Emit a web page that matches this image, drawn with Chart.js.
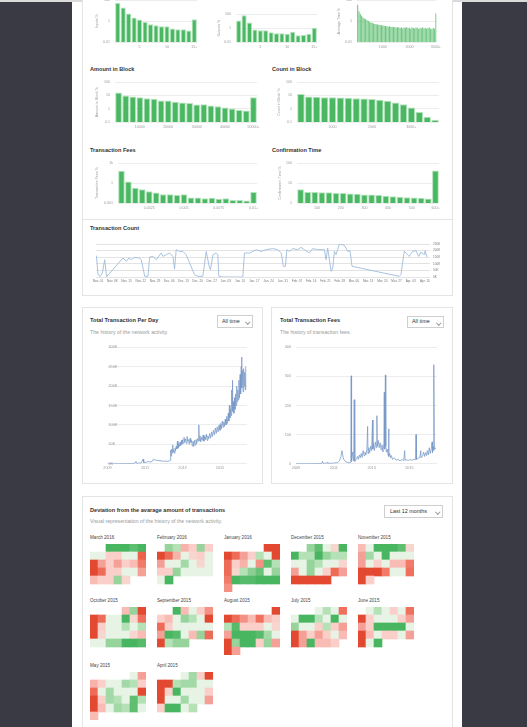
<!DOCTYPE html>
<html>
<head>
<meta charset="utf-8">
<script src="https://cdn.jsdelivr.net/npm/chart.js@4.4.1/dist/chart.umd.min.js"></script>
<style>
  body { margin: 0; width: 527px; height: 727px; overflow: hidden; background: #3a3a44; font-family: 'Liberation Sans', Arial, sans-serif; position: relative; }
  .abs { position: absolute; }
  .page { left: 72px; top: 0; width: 390px; height: 727px; background: #fff; }
  .strip { left: 0; top: 0; width: 527px; height: 2px; background: #dadada; }
  .card { background: #fff; border: 1px solid #e4e4e4; box-sizing: border-box; }
  .title { font-weight: bold; font-size: 5.6px; color: #333; line-height: 1; white-space: nowrap; }
  .sub { font-size: 5.2px; color: #9a9a9a; line-height: 1; white-space: nowrap; }
  .month { font-size: 4.6px; color: #444; line-height: 1; white-space: nowrap; }
  .select { border: 1px solid #cfcfcf; box-sizing: border-box; font-size: 5.4px; color: #333; line-height: 1; background: #fff; }
  .select span { position: absolute; top: 50%; transform: translateY(-50%); }
  .select i { position: absolute; right: 3px; top: 3.5px; width: 2.5px; height: 2.5px; border-right: 0.6px solid #999; border-bottom: 0.6px solid #999; transform: rotate(45deg); }
  canvas { position: absolute; }
</style>
</head>
<body>
<div class="abs page"></div>
<div class="abs strip"></div>

<div class="abs card" style="left:82px; top:-10px; width:371px; height:306px;"></div>
<div class="abs" style="left:82px; top:219px; width:371px; height:1px; background:#e4e4e4;"></div>
<div class="abs card" style="left:82px; top:307px; width:181px; height:177px;"></div>
<div class="abs card" style="left:271px; top:307px; width:182px; height:177px;"></div>
<div class="abs card" style="left:82px; top:496px; width:371px; height:260px;"></div>

<div class="abs title" style="left:90px; top:67px;">Amount in Block</div>
<div class="abs title" style="left:272px; top:67px;">Count in Block</div>
<div class="abs title" style="left:90px; top:148px;">Transaction Fees</div>
<div class="abs title" style="left:272px; top:148px;">Confirmation Time</div>
<div class="abs title" style="left:90px; top:226px;">Transaction Count</div>

<div class="abs title" style="left:90px; top:318px;">Total Transaction Per Day</div>
<div class="abs sub" style="left:90px; top:329.5px;">The history of the network activity.</div>
<div class="abs select" style="left:217px; top:315px; width:36px; height:13px;"><span style="left:4px;">All time</span><i></i></div>

<div class="abs title" style="left:280px; top:318px;">Total Transaction Fees</div>
<div class="abs sub" style="left:280px; top:329.5px;">The history of transaction fees.</div>
<div class="abs select" style="left:407px; top:316px; width:37px; height:12px;"><span style="left:4px;">All time</span><i></i></div>

<div class="abs title" style="left:90px; top:507.5px;">Deviation from the avarage amount of transactions</div>
<div class="abs sub" style="left:90px; top:519px;">Visual representation of the history of the network activity.</div>
<div class="abs select" style="left:384px; top:505px; width:59px; height:13px;"><span style="left:5px;">Last 12 months</span><i></i></div>

<canvas id="inputs" width="114" height="60" style="left:88px; top:-8px;"></canvas>
<canvas id="outputs" width="112" height="60" style="left:210px; top:-8px;"></canvas>
<canvas id="avgTime" width="114" height="60" style="left:330px; top:-8px;"></canvas>
<canvas id="amount" width="175" height="57" style="left:88px; top:75px;"></canvas>
<canvas id="count" width="175" height="57" style="left:270px; top:75px;"></canvas>
<canvas id="fees" width="175" height="57" style="left:88px; top:156px;"></canvas>
<canvas id="confirm" width="175" height="57" style="left:270px; top:156px;"></canvas>
<canvas id="txCount" width="362" height="47" style="left:90px; top:238px;"></canvas>
<canvas id="perDay" width="152" height="132" style="left:100px; top:340px;"></canvas>
<canvas id="feeHistory" width="172" height="132" style="left:270px; top:340px;"></canvas>
<div id="heat"></div>

<script>
Chart.defaults.font.family = "'Liberation Sans', Arial, sans-serif";

// ---- histograms ----
const inputsLabels = ['1', '2', '3', '4', '5', '6', '7', '8', '9', '10', '11', '12', '13', '14', '15+'];
const inputsValues = [55, 21, 5.5, 2.3, 1.45, 0.86, 0.51, 0.41, 0.33, 0.33, 0.2, 0.17, 0.17, 0.125, 1.56];
const outputsValues = [13, 71, 6.7, 0.64, 0.5, 0.5, 0.26, 0.19, 0.19, 0.15, 0.29, 0.095, 0.106, 0.15, 1.1];
const countShown = ['5', '10', '15+'];

const avgLabels = ['50', '100', '150', '200', '250', '300', '350', '400', '450', '500', '550', '600', '650', '700', '750',
  '800', '850', '900', '950', '1000', '1050', '1100', '1150', '1200', '1250', '1300', '1350', '1400', '1450', '1500',
  '1550', '1600', '1650', '1700', '1750', '1800', '1850', '1900', '1950', '2000', '2050', '2100', '2150', '2200', '2250',
  '2300', '2350', '2400', '2450', '2500', '2550', '2600', '2650', '2700', '2750', '2800', '2850', '2900', '2950', '3000+'];
const avgValues = [38, 9.3, 4.8, 3.3, 2.3, 1.8, 1.55, 1.25, 1.1, 0.86, 0.75, 0.7, 0.6, 0.55, 0.5, 0.48, 0.45, 0.42, 0.4, 0.38,
  0.36, 0.34, 0.33, 0.3, 0.32, 0.28, 0.3, 0.26, 0.28, 0.24, 0.27, 0.25, 0.22, 0.26, 0.2, 0.25, 0.23, 0.27, 0.21, 0.24,
  0.19, 0.26, 0.22, 0.2, 0.25, 0.23, 0.18, 0.24, 0.21, 0.26, 0.2, 0.23, 0.19, 0.22, 0.25, 0.2, 0.17, 0.22, 0.19, 5.5];
const avgShown = ['1000', '2000', '3000+'];

const amountLabels = ['2500', '5000', '7500', '10000', '12500', '15000', '17500', '20000', '22500', '25000',
  '27500', '30000', '32500', '35000', '37500', '40000', '42500', '45000', '47500', '50000+'];
const amountValues = [17, 9.7, 8.2, 7.4, 6.2, 5.6, 4.2, 4.2, 3.4, 3.0, 2.7, 2.05, 2.2, 1.74, 1.56, 1.25, 1.06, 0.8, 0.72, 7.4];
const amountShown = ['10000', '20000', '30000', '40000', '50000+'];

const blockCountLabels = ['200', '400', '600', '800', '1000', '1200', '1400', '1600', '1800', '2000',
  '2200', '2400', '2600', '2800', '3000+', '3200', '3400', '3600'];
const blockCountValues = [12.8, 8.2, 7.8, 7.4, 7.4, 7.0, 6.6, 6.2, 5.9, 5.3, 4.7, 4.0, 3.0, 2.2, 1.25, 0.57, 0.25, 0.15];
const blockCountShown = ['1000', '2000', '3000+'];

const feeLabels = ['0.0005', '0.001', '0.0015', '0.002', '0.0025', '0.003', '0.0035', '0.004', '0.0045', '0.005',
  '0.0055', '0.006', '0.0065', '0.007', '0.0075', '0.008', '0.0085', '0.009', '0.0095', '0.01+'];
const feeValues = [73, 1.76, 0.206, 0.117, 0.06, 0.038, 0.0216, 0.0216, 0.0154, 0.0216,
  0.007, 0.007, 0.005, 0.0062, 0.0044, 0.005, 0.0028, 0.0028, 0.0023, 0.047];
const feeShown = ['0.0025', '0.005', '0.0075', '0.01+'];

const confValues = [4.9, 3.6, 3.6, 3.5, 3.5, 3.2, 3.2, 3.0, 2.9, 2.7, 2.7, 2.5, 2.3, 2.2, 2.05, 1.97, 1.9, 1.83, 1.7, 43];
const confBins = [30, 60, 90, 120, 150, 180, 210, 240, 270, 300, 330, 360, 390, 420, 450, 480, 510, 540, 570, 600];
const confTicks = [100, 200, 300, 400, 500, 600];
const confTickLabels = ['100', '200', '300', '400', '500', '600+'];

// ---- transaction count (days from Nov. 01, values in K) ----
const txDays = [-0.8, 0, 1.1, 2.1, 3.3, 4.1, 4.4, 12.3, 13.9, 15.2, 16.4, 18, 20.5, 21.3, 23, 24.6, 25.4, 27, 28.7,
  31.1, 32, 33.6, 35.2, 36.9, 37.7, 38.5, 40.2, 41.8, 43.4, 47.5, 49.2, 51.6, 53.3, 54.9, 55.4, 56.6, 58.2, 59,
  59.5, 61.5, 71.3, 72.1, 74.6, 76.2, 77.9, 80.3, 82.8, 86.1, 88.5, 90.2, 91.3, 92.3, 93, 94.3, 95.9, 98.4, 100,
  101.6, 104.1, 105.7, 108.2, 111.5, 112.3, 113.1, 114.8, 115.6, 116.4, 117.2, 118, 118.9, 121.3, 123, 124.1,
  125.1, 148.4, 149.2, 150.8, 153.3, 154.9, 156.6, 157.9, 159, 160.7, 161.1, 162];
const txCounts = [162, 18, 5, 30, 131, 13, 5, 144, 119, 144, 131, 149, 144, 131, 5, 5, 151, 156, 131,
  182, 156, 169, 182, 156, 61, 207, 194, 194, 169, 18, 5, 5, 194, 68, 56, 169, 182, 169,
  5, 0, 0, 182, 182, 194, 207, 194, 207, 215, 207, 182, 81, 81, 207, 194, 215, 207, 225,
  207, 182, 215, 207, 207, 131, 220, 43, 68, 194, 169, 207, 250, 240, 194, 199,
  81, 5, 18, 194, 156, 194, 199, 156, 189, 169, 199, 151];
const txTicks = [0, 50, 100, 150, 200, 250];
const txTickDays = [0, 7, 14, 21, 28, 35, 42, 49, 56, 63, 70, 77, 84, 91, 98, 105, 112, 119, 126, 133, 140, 147, 154, 161];
const txTickLabels = ['Nov. 01', 'Nov. 08', 'Nov. 15', 'Nov. 22', 'Nov. 29', 'Dec. 06', 'Dec. 13', 'Dec. 20', 'Dec. 27',
  'Jan. 03', 'Jan. 10', 'Jan. 17', 'Jan. 24', 'Jan. 31', 'Feb. 07', 'Feb. 14', 'Feb. 21', 'Feb. 28', 'Mar. 06',
  'Mar. 13', 'Mar. 20', 'Mar. 27', 'Apr. 03', 'Apr. 10'];

// ---- total transactions per day (year, K) ----
const perDayYears = [2009.0, 2009.3, 2009.6, 2009.9, 2010.2, 2010.45, 2010.52, 2010.55, 2010.8, 2010.9, 2010.93, 2011.1,
  2011.2, 2011.3, 2011.42, 2011.45, 2011.5, 2011.6, 2011.75, 2011.9, 2012.0, 2012.1, 2012.2, 2012.3, 2012.34, 2012.37,
  2012.39, 2012.42, 2012.45, 2012.48, 2012.5, 2012.53, 2012.56, 2012.6, 2012.63, 2012.66, 2012.7, 2012.73, 2012.76,
  2012.8, 2012.83, 2012.87, 2012.9, 2012.94, 2012.97, 2013.0, 2013.04, 2013.08, 2013.12, 2013.16, 2013.2, 2013.24,
  2013.28, 2013.32, 2013.36, 2013.4, 2013.44, 2013.48, 2013.52, 2013.56, 2013.6, 2013.64, 2013.68, 2013.72, 2013.76,
  2013.8, 2013.84, 2013.87, 2013.89, 2013.93, 2013.97, 2014.01, 2014.05, 2014.1, 2014.14, 2014.18, 2014.22, 2014.27,
  2014.31, 2014.35, 2014.4, 2014.45, 2014.5, 2014.55, 2014.6, 2014.65, 2014.7, 2014.75, 2014.8, 2014.85, 2014.9,
  2014.95, 2015.0, 2015.04, 2015.08, 2015.12, 2015.16, 2015.2, 2015.24, 2015.28, 2015.32, 2015.36, 2015.4, 2015.44,
  2015.47, 2015.5, 2015.53, 2015.56, 2015.59, 2015.62, 2015.64, 2015.66, 2015.68, 2015.71, 2015.74, 2015.77, 2015.8,
  2015.83, 2015.86, 2015.89, 2015.92, 2015.95, 2015.98, 2016.01, 2016.04, 2016.07, 2016.1, 2016.13, 2016.15, 2016.17,
  2016.2, 2016.23, 2016.26, 2016.29, 2016.32, 2016.35, 2016.37];
const perDayValues = [0, 0.1, 0.2, 0.3, 0.4, 0.8, 6, 1, 2, 12, 3, 4,
  6, 4, 8, 12, 10, 9, 8, 7, 6, 7, 6, 7, 9, 35,
  20, 38, 28, 48, 30, 36, 27, 40, 33, 45, 38, 58, 40,
  52, 44, 55, 47, 60, 50, 62, 53, 68, 55, 64, 52, 70,
  58, 62, 50, 65, 55, 60, 46, 58, 44, 60, 48, 62, 52,
  65, 58, 100, 60, 72, 56, 68, 60, 74, 58, 70, 62, 76,
  60, 72, 64, 78, 66, 82, 70, 86, 74, 92, 78, 95, 82,
  100, 86, 104, 90, 110, 94, 108, 96, 115, 100, 122, 104, 130,
  110, 150, 118, 140, 124, 190, 140, 215, 135, 160, 130, 170, 140,
  180, 150, 200, 160, 190, 165, 215, 170, 230, 180, 250, 275, 195,
  240, 185, 245, 200, 235, 190, 250];
const perDayTicks = [0, 50, 100, 150, 200, 250, 300];
const yearTicks = [2009, 2011, 2013, 2015];

// ---- total transaction fees (year, value) ----
const feeYears = [2009.0, 2009.5, 2010.0, 2010.35, 2010.4, 2010.43, 2010.65, 2010.68, 2010.7, 2011.0, 2011.2, 2011.3,
  2011.38, 2011.43, 2011.47, 2011.5, 2011.55, 2011.65, 2011.75, 2011.85, 2011.9, 2011.92, 2011.94, 2012.0, 2012.05,
  2012.08, 2012.1, 2012.12, 2012.15, 2012.2, 2012.25, 2012.3, 2012.35, 2012.4, 2012.45, 2012.5, 2012.55, 2012.6,
  2012.65, 2012.7, 2012.75, 2012.79, 2012.81, 2012.85, 2012.9, 2012.95, 2013.0, 2013.05, 2013.07, 2013.1, 2013.15,
  2013.2, 2013.25, 2013.28, 2013.3, 2013.35, 2013.4, 2013.45, 2013.5, 2013.55, 2013.6, 2013.65, 2013.67, 2013.69,
  2013.73, 2013.75, 2013.79, 2013.83, 2013.87, 2013.9, 2013.92, 2013.96, 2014.0, 2014.05, 2014.1, 2014.2, 2014.3,
  2014.4, 2014.5, 2014.6, 2014.7, 2014.75, 2014.77, 2014.85, 2014.95, 2015.05, 2015.15, 2015.25, 2015.33, 2015.35,
  2015.37, 2015.45, 2015.55, 2015.6, 2015.62, 2015.7, 2015.75, 2015.8, 2015.85, 2015.9, 2015.95, 2016.0, 2016.05,
  2016.1, 2016.15, 2016.2, 2016.22, 2016.26, 2016.28, 2016.3, 2016.32, 2016.35];
const feeHistoryValues = [0, 0, 0.5, 1, 8, 1, 2, 5, 1, 2, 4, 10,
  25, 45, 30, 20, 12, 6, 4, 3, 5, 302, 8, 40, 10,
  220, 20, 8, 12, 15, 25, 15, 30, 20, 35, 22, 45, 28,
  40, 30, 50, 128, 35, 55, 38, 60, 45, 150, 50, 70, 45,
  75, 55, 165, 60, 80, 55, 72, 48, 65, 40, 70, 245, 50,
  305, 60, 40, 50, 30, 120, 25, 35, 20, 28, 15, 20, 12,
  15, 10, 14, 11, 45, 12, 13, 12, 14, 12, 15, 14, 100,
  15, 18, 22, 45, 20, 28, 40, 25, 38, 28, 45, 30, 55,
  35, 50, 75, 38, 60, 45, 340, 55, 50];
const feeHistoryTicks = [0, 100, 200, 300, 400];

// ---- deviation heatmaps (one value per day, weekday offset of the 1st, Sunday first) ----
const heatMonths = ['March 2016', 'February 2016', 'January 2016', 'December 2015', 'November 2015',
  'October 2015', 'September 2015', 'August 2015', 'July 2015', 'June 2015', 'May 2015', 'April 2015'];
const heatOffsets = [2, 1, 5, 2, 0, 4, 2, 6, 3, 1, 5, 3];
const heatValues = [
  [3, 3, 3, 2.5, 3, 0, 0, -1, -1, 0, 0, -2.5, -3, -1.5, -1, -1.5, -1, -1.2, -2, -3, -2.3, -1, -1, 0, 0, -1.5, -1.2, -1, -1, 1.5, -0.8],
  [1.5, 1, -1.3, -1, 1.5, -1, -3, -2.3, -1.3, 0, -0.8, -1, 0, -1.5, 0, 0, 1.3, 0, -0.8, 0, -1, -1, 1.5, 0, 0, 0, 0, 0, 3],
  [-3, -3, -3, -2.3, -1.5, -1, 1, 0, -3, -2.3, -1, -1.3, 0, -1.7, 2.5, 1, -2.3, -0.8, 1, 1.7, 2.3, 0, 1.5, -2, 3, 2.7, 2.7, 3, 3, 3, -1.7],
  [1.5, 2.5, 0, -0.8, 3, 3, 1, 1, 3, 1.5, 1, 1, 0, 0, 1.5, 1, 0, 0, -0.8, -1.5, 0, 1.5, 0, -1, -2.3, -1.5, -3, -3, -3, -3, -3],
  [-1.2, 0, 3, 3, 3, 2.5, -0.8, -1.5, 1.3, 0, 3, 0, 0, 0, -1.5, 0, -1, 0, -1.2, -1.2, -2, -3, -3, -3, -2, 0, 0, -2.2, -3, -1],
  [-1.2, 1.5, -3, -3, -2.3, 0, 0, 3, -0.8, -2.2, -3, -1, 0, 0, 1, 0, 1, -3, -0.8, 0, 0, 0, -0.8, -1.2, 0, 0, 1.5, 1.5, 3, 3, 2.7],
  [3, -1.2, 0, -1, -1.7, -1, -1.2, 0, 1.5, 1, 0, -3, -2.3, -1, 0, 0, 0, 0, 0, -1.5, 3, 2.7, 0, -1.2, 1.5, -2.3, -3, 1, 1.5, 1.5],
  [-3, -3, -2.3, -1.7, -1.2, -2.2, -1.2, -1, 1, 2.7, -1, -1, -1, 0, -0.8, -1.5, 3, 3, 3, 2.7, 1.3, 0, -3, 1.5, 3, 3, -1, 1.5, -1.5, -3, -1.5],
  [0, 1, 0, -2.2, 0, 3, 3, 1, 0, 3, 0, 1.5, 0, 0, -1, 1, -1, -1.5, -3, -1.5, -1, -1.5, -1, 0, -1.2, -3, -1.5, 3, -1.2, -1.2, -1],
  [0, 1, 0, -1, 0, -2.2, -3, -1, 0, 0, 0, -1, -1.5, -1.5, -1, 3, 3, 3, 3, 0, -3, -1.2, 0, -1, -1, 0, -1.5, -3, 0, 3],
  [0, -1.5, -1.3, -1, 0, 0, 1.3, 1, -1, -2.3, 0, 1.3, 0, 0, 0, -3, -3, -1, 1.3, 1, 0, 2.5, 1, -3, -1.2, 0, 1.3, 1, 2.5, 0, -1.2],
  [0, 1.3, -1, -3, -3, -3, 1, 1.3, 1.3, 0, 0, -3, -1, 3, 0, 0, 0, -1, -3, 0, 0, 1.3, 0, 0, -1.5, -1, 3, 3, 0, 1]
];
const heatLeft = [90, 157, 224, 291, 358, 90, 157, 224, 291, 358, 90, 157];
const heatTop = [544, 544, 544, 544, 544, 607, 607, 607, 607, 607, 672, 672];

const GREEN = '#4ab862';
const GREEN_EDGE = '#b3e2bd';
const TICK = '#9a9a9a';

const base = {
  responsive: false,
  animation: false,
  events: [],
  plugins: { legend: { display: false }, tooltip: { enabled: false } }
};

function fmt(v) {
  return v >= 1000 ? (v / 1000) + 'k' : String(v);
}

function histogram(id, labels, values, shown, cfg) {
  return new Chart(document.getElementById(id), {
    type: 'bar',
    data: {
      labels: labels,
      datasets: [{
        data: values,
        backgroundColor: cfg.thin ? 'rgba(74, 184, 98, 0.8)' : GREEN,
        borderColor: GREEN_EDGE,
        borderWidth: cfg.thin ? 0 : 1,
        categoryPercentage: cfg.thin ? 0.8 : 0.95,
        barPercentage: 1
      }]
    },
    options: {
      ...base,
      layout: { padding: { top: cfg.padTop, right: cfg.padRight, left: 0, bottom: 0 } },
      scales: {
        x: {
          grid: { display: false, drawTicks: false },
          border: { display: false },
          ticks: {
            font: { size: 3.6 }, color: TICK, padding: 3, maxRotation: 0, autoSkip: false,
            callback: (v, i) => shown.includes(labels[i]) ? labels[i] : ''
          },
          afterFit: s => { s.height = cfg.xH; }
        },
        y: {
          type: 'logarithmic', min: cfg.ticks[0], max: cfg.ticks[cfg.ticks.length - 1],
          afterBuildTicks: s => { s.ticks = cfg.ticks.map(v => ({ value: v })); },
          grid: { color: '#ececec', drawTicks: false },
          border: { display: false },
          ticks: { font: { size: 3.6 }, color: TICK, padding: 5, autoSkip: false, callback: v => fmt(v) },
          title: { display: true, text: cfg.title, font: { size: 3.6 }, color: TICK, padding: { top: 7, bottom: 0 } },
          afterFit: s => { s.width = cfg.yW; }
        }
      }
    }
  });
}

histogram('inputs', inputsLabels, inputsValues, countShown,
  { padTop: 8.4, padRight: 5, xH: 10, yW: 27, ticks: [0.01, 1, 100], title: 'Inputs %' });
histogram('outputs', inputsLabels, outputsValues, countShown,
  { padTop: 22.3, padRight: 5, xH: 10, yW: 26, ticks: [0.01, 1, 100], title: 'Outputs %' });
histogram('avgTime', avgLabels, avgValues, avgShown,
  { padTop: 8.4, padRight: 5, xH: 10, yW: 27, ticks: [0.01, 1, 100], title: 'Average Time %', thin: true });
histogram('amount', amountLabels, amountValues, amountShown,
  { padTop: 6, padRight: 6, xH: 10, yW: 27, ticks: [0.1, 1, 10, 100], title: 'Amount in Block %' });
histogram('count', blockCountLabels, blockCountValues, blockCountShown,
  { padTop: 6, padRight: 6, xH: 10, yW: 27, ticks: [0.1, 1, 10, 100], title: 'Count in Block %' });
histogram('fees', feeLabels, feeValues, feeShown,
  { padTop: 6, padRight: 6, xH: 10, yW: 30, ticks: [0.001, 1, 1000], title: 'Transaction Fees %' });

// confirmation time uses a linear axis, its ticks fall between bars
new Chart(document.getElementById('confirm'), {
  type: 'bar',
  data: {
    datasets: [{
      data: confBins.map((b, i) => ({ x: b, y: confValues[i] })),
      backgroundColor: GREEN, borderColor: GREEN_EDGE, borderWidth: 1,
      categoryPercentage: 0.95, barPercentage: 1
    }]
  },
  options: {
    ...base,
    layout: { padding: { top: 6, right: 6 } },
    scales: {
      x: {
        type: 'linear', min: 15, max: 615, offset: false,
        afterBuildTicks: s => { s.ticks = confTicks.map(v => ({ value: v })); },
        grid: { display: false, drawTicks: false }, border: { display: false },
        ticks: { font: { size: 3.6 }, color: TICK, padding: 3, maxRotation: 0, autoSkip: false, callback: (v, i) => confTickLabels[i] },
        afterFit: s => { s.height = 10; }
      },
      y: {
        type: 'logarithmic', min: 1, max: 100,
        afterBuildTicks: s => { s.ticks = [1, 10, 100].map(v => ({ value: v })); },
        grid: { color: '#ececec', drawTicks: false }, border: { display: false },
        ticks: { font: { size: 3.6 }, color: TICK, padding: 5, autoSkip: false, callback: v => fmt(v) },
        title: { display: true, text: 'Confirmation Time %', font: { size: 3.6 }, color: TICK, padding: { top: 8, bottom: 0 } },
        afterFit: s => { s.width = 27; }
      }
    }
  }
});

new Chart(document.getElementById('txCount'), {
  type: 'line',
  data: {
    datasets: [{
      data: txDays.map((d, i) => ({ x: d, y: txCounts[i] })),
      borderColor: '#9fbbdd', borderWidth: 0.9, pointRadius: 0, tension: 0
    }]
  },
  options: {
    ...base,
    layout: { padding: { top: 6, left: 6 } },
    scales: {
      x: {
        type: 'linear', min: -1, max: 163.5,
        afterBuildTicks: s => { s.ticks = txTickDays.map(v => ({ value: v })); },
        grid: { display: false, drawTicks: false }, border: { display: false },
        ticks: { font: { size: 3.1 }, color: '#777', padding: 2, maxRotation: 0, autoSkip: false, callback: (v, i) => txTickLabels[i] },
        afterFit: s => { s.height = 8; }
      },
      y: {
        position: 'right', min: 0, max: 250,
        afterBuildTicks: s => { s.ticks = txTicks.map(v => ({ value: v })); },
        grid: { color: '#e3e3e3', drawTicks: false }, border: { display: false },
        ticks: { font: { size: 3.1 }, color: '#777', padding: 3, autoSkip: false, callback: v => v + 'K' },
        afterFit: s => { s.width = 22; }
      }
    }
  }
});

function history(id, xs, ys, yTicks, suffix, cfg) {
  return new Chart(document.getElementById(id), {
    type: 'line',
    data: {
      datasets: [{
        data: xs.map((x, i) => ({ x: x, y: ys[i] })),
        borderColor: 'rgba(120, 153, 200, 0.85)', borderWidth: 0.9, pointRadius: 0, tension: 0
      }]
    },
    options: {
      ...base,
      layout: { padding: { top: 7.3, left: cfg.padLeft, right: 5 } },
      scales: {
        x: {
          type: 'linear', min: 2009, max: cfg.maxYear,
          afterBuildTicks: s => { s.ticks = yearTicks.map(v => ({ value: v })); },
          grid: { display: false, drawTicks: false }, border: { display: false },
          ticks: { font: { size: 3.8 }, color: TICK, padding: 2, maxRotation: 0, autoSkip: false, callback: v => String(v) },
          afterFit: s => { s.height = 8.3; }
        },
        y: {
          min: yTicks[0], max: yTicks[yTicks.length - 1],
          afterBuildTicks: s => { s.ticks = yTicks.map(v => ({ value: v })); },
          grid: { color: '#ececec', drawTicks: false }, border: { display: false },
          ticks: { font: { size: 3.8 }, color: TICK, padding: cfg.mirror ? 1 : 5, mirror: cfg.mirror, autoSkip: false, callback: v => v + suffix },
          afterFit: s => { s.width = cfg.yW; }
        }
      }
    }
  });
}

history('perDay', perDayYears, perDayValues, perDayTicks, 'K', { padLeft: 7.5, yW: 0, mirror: true, maxYear: 2016.44 });
history('feeHistory', feeYears, feeHistoryValues, feeHistoryTicks, '', { padLeft: 0, yW: 26, mirror: false, maxYear: 2016.46 });

// ---- heatmaps ----
const heatStops = [
  [-3, [227, 72, 48]], [-2, [241, 122, 104]], [-1.5, [245, 160, 150]], [-1, [251, 207, 201]],
  [0, [231, 244, 229]], [1, [181, 225, 183]], [1.5, [150, 212, 155]], [2.5, [95, 190, 112]], [3, [72, 182, 97]]
];

function heatColor(v) {
  for (let i = 1; i < heatStops.length; i++) {
    const [v0, c0] = heatStops[i - 1];
    const [v1, c1] = heatStops[i];
    if (v <= v1) {
      const t = Math.max(0, (v - v0) / (v1 - v0));
      const c = c0.map((a, k) => Math.round(a + (c1[k] - a) * t));
      return 'rgb(' + c.join(',') + ')';
    }
  }
  return 'rgb(72,182,97)';
}

const heatBox = document.getElementById('heat');
heatMonths.forEach((name, m) => {
  const label = document.createElement('div');
  label.className = 'abs month';
  label.style.left = heatLeft[m] + 'px';
  label.style.top = (heatTop[m] - 8) + 'px';
  label.textContent = name;
  heatBox.appendChild(label);

  const canvas = document.createElement('canvas');
  canvas.width = 56;
  canvas.height = 48;
  canvas.style.left = heatLeft[m] + 'px';
  canvas.style.top = heatTop[m] + 'px';
  heatBox.appendChild(canvas);

  const cells = heatValues[m].map((v, d) => {
    const p = heatOffsets[m] + d;
    const row = Math.floor(p / 7);
    return { x: p % 7, y: [row, row + 1], v: v };
  });

  new Chart(canvas, {
    type: 'bar',
    data: {
      datasets: [{
        data: cells,
        backgroundColor: c => heatColor(c.raw.v),
        borderWidth: 0, borderSkipped: false,
        categoryPercentage: 1, barPercentage: 1
      }]
    },
    options: {
      ...base,
      layout: { padding: 0 },
      scales: {
        x: { type: 'linear', min: -0.5, max: 6.5, display: false, offset: false },
        y: { min: 0, max: 6, reverse: true, display: false }
      }
    }
  });
});
</script>
</body>
</html>
